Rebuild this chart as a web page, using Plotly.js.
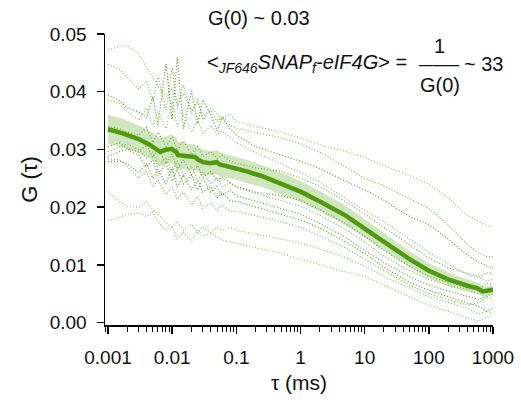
<!DOCTYPE html>
<html>
<head>
<meta charset="utf-8">
<script src="https://cdn.plot.ly/plotly-3.0.1.min.js"></script>
<style>html,body{margin:0;padding:0;background:#fff;}#chart{width:521px;height:400px;}</style>
</head>
<body>
<div id="chart"></div>
<script>
// lag times (ms) for the individual curves
const tau = [0.001,0.0015,0.002,0.003,0.004,0.005,0.006,0.008,0.01,0.012,0.015,0.02,0.025,0.03,0.04,0.05,0.06,0.08,0.1,0.2,0.5,1,2,5,10,20,50,100,200,400,600,800,1000];

// individual autocorrelation curves G(tau)
const curveA = [.0473,.0478,.0480,.0466,.0441,.0425,.0410,.0392,.0405,.0378,.0396,.0368,.0382,.0357,.0372,.0362,.0352,.0361,.0348,.0340,.0330,.0320,.0308,.0297,.0286,.0272,.0255,.0240,.0216,.0186,.0175,.0168,.0166];
const curveB = [.0447,.0440,.0425,.0405,.0418,.0382,.0428,.0368,.0442,.0372,.0412,.0362,.0388,.0352,.0368,.0348,.0358,.0342,.0337,.0330,.0320,.0310,.0295,.0270,.0250,.0237,.0215,.0198,.0170,.0135,.0120,.0115,.0114];
const curveC = [.0395,.0385,.0372,.0365,.0355,.0392,.0342,.0448,.0352,.0460,.0336,.0402,.0345,.0386,.0360,.0332,.0355,.0336,.0325,.0305,.0290,.0280,.0267,.0245,.0230,.0212,.0184,.0170,.0145,.0117,.0105,.0098,.0095];
const curveD = [.0386,.0380,.0366,.0350,.0372,.0340,.0366,.0336,.0382,.0340,.0362,.0330,.0352,.0326,.0342,.0325,.0332,.0320,.0312,.0295,.0275,.0260,.0243,.0215,.0195,.0175,.0145,.0122,.0102,.0083,.0078,.0072,.0075];
const curveK = [.0340,.0336,.0330,.0325,.0338,.0312,.0330,.0305,.0322,.0298,.0315,.0292,.0305,.0288,.0296,.0284,.0290,.0280,.0276,.0268,.0262,.0250,.0236,.0210,.0188,.0165,.0135,.0112,.0095,.0085,.0080,.0086,.0085];
const curveL = [.0305,.0312,.0302,.0296,.0308,.0286,.0302,.0276,.0292,.0266,.0282,.0256,.0272,.0252,.0262,.0246,.0252,.0242,.0236,.0226,.0220,.0212,.0196,.0172,.0150,.0125,.0098,.0080,.0070,.0062,.0058,.0068,.0066];
const curveE = [.0296,.0305,.0310,.0300,.0285,.0296,.0270,.0286,.0260,.0280,.0255,.0272,.0246,.0262,.0240,.0252,.0236,.0242,.0234,.0224,.0212,.0202,.0186,.0162,.0140,.0115,.0090,.0075,.0065,.0058,.0050,.0055,.0060];
const curveF = [.0288,.0296,.0300,.0290,.0270,.0282,.0255,.0276,.0245,.0266,.0240,.0256,.0230,.0250,.0226,.0236,.0220,.0230,.0220,.0210,.0198,.0188,.0172,.0148,.0125,.0104,.0080,.0065,.0055,.0045,.0040,.0046,.0050];
const curveG = [.0279,.0280,.0275,.0260,.0276,.0250,.0266,.0240,.0270,.0235,.0256,.0230,.0246,.0226,.0236,.0216,.0226,.0211,.0210,.0200,.0188,.0178,.0164,.0140,.0120,.0096,.0070,.0056,.0045,.0035,.0028,.0020,.0025];
const curveJ = [.0284,.0282,.0270,.0250,.0262,.0235,.0248,.0222,.0236,.0214,.0226,.0204,.0218,.0198,.0208,.0194,.0204,.0193,.0193,.0185,.0175,.0165,.0150,.0130,.0110,.0090,.0065,.0050,.0040,.0030,.0035,.0045,.0040];
const curveH = [.0227,.0210,.0202,.0200,.0210,.0195,.0190,.0173,.0166,.0175,.0160,.0170,.0155,.0166,.0156,.0165,.0160,.0165,.0160,.0153,.0145,.0138,.0128,.0113,.0098,.0080,.0060,.0045,.0035,.0025,.0015,.0020,.0015];
const curveI = [.0176,.0182,.0188,.0190,.0184,.0192,.0175,.0160,.0166,.0146,.0156,.0142,.0160,.0150,.0155,.0148,.0143,.0140,.0138,.0130,.0120,.0110,.0100,.0088,.0080,.0065,.0045,.0030,.0020,.0008,.0003,.0010,.0012];

const curves = [curveA,curveB,curveC,curveD,curveK,curveL,curveE,curveF,curveG,curveJ,curveH,curveI];
const curveColors = ['#8cbf66','#7db552','#4f9a1a','#8cbf66','#6aaa3a','#4f9a1a','#7db552','#5fa22c','#4f9a1a','#7db552','#8cbf66','#8cbf66'];

// average curve and its standard error
const meanTau = [0.001,0.0017,0.003,0.0045,0.0065,0.0077,0.0098,0.0117,0.0124,0.015,0.019,0.0227,0.0255,0.0304,0.0387,0.0495,0.0556,0.08,0.145,0.265,0.48,1,2,5,10,20,50,100,200,400,560,700,850,1000];
const meanG = [.0335,.0328,.0318,.0308,.0296,.0299,.0301,.0295,.0290,.0289,.0286,.0287,.0282,.0278,.0276,.0278,.0274,.0270,.0262,.0253,.0242,.0227,.0210,.0186,.0163,.0140,.0110,.0090,.0075,.0064,.0060,.0054,.0055,.0057];
const semG = [.0025,.0025,.0024,.0024,.0024,.0024,.0025,.0025,.0024,.0023,.0023,.0022,.0022,.0022,.0021,.0021,.0021,.0020,.0020,.0019,.0019,.0018,.0018,.0017,.0016,.0015,.0014,.0013,.0012,.0011,.0010,.0009,.0008,.0008];

const xTickVals = [0.001,0.01,0.1,1,10,100,1000];
const xTickText = ['0.001','0.01','0.1','1','10','100','1000'];
const yTickVals = [0,0.01,0.02,0.03,0.04,0.05];
const yTickText = ['0.00','0.01','0.02','0.03','0.04','0.05'];

const traces = [];
curves.forEach((c,i)=>{
  traces.push({x:tau,y:c,mode:'lines',type:'scatter',line:{color:curveColors[i],width:1.2,dash:'1px,2px'},hoverinfo:'skip',showlegend:false});
});
const upper = meanG.map((v,i)=>v+semG[i]);
const lower = meanG.map((v,i)=>v-semG[i]);
traces.push({x:meanTau,y:upper,mode:'lines',line:{width:0,color:'rgba(0,0,0,0)'},showlegend:false,hoverinfo:'skip'});
traces.push({x:meanTau,y:lower,mode:'lines',line:{width:0,color:'rgba(0,0,0,0)'},fill:'tonexty',fillcolor:'rgba(140,195,100,0.42)',showlegend:false,hoverinfo:'skip'});
traces.push({x:meanTau,y:meanG,mode:'lines',line:{color:'#4f9a0e',width:4.5},showlegend:false});

const F = 'Liberation Sans, Arial, Helvetica, sans-serif';
const layout = {
  width:521,height:400,
  margin:{l:105,r:28,t:34,b:75},
  paper_bgcolor:'#fff',plot_bgcolor:'#fff',
  font:{family:F,size:19,color:'#111'},
  showlegend:false,
  xaxis:{type:'log',range:[-3.047,3],tickvals:xTickVals,ticktext:xTickText,
    showline:true,linecolor:'#000',linewidth:1.5,ticks:'outside',ticklen:7,tickwidth:1.5,tickcolor:'#000',
    showgrid:false,zeroline:false,ticklabelstandoff:8,
    minor:{ticks:'outside',ticklen:5,tickwidth:1,tickcolor:'#000',dtick:'D1',showgrid:false},
    title:{text:'τ (ms)',font:{size:21,family:F},standoff:8}},
  yaxis:{range:[-0.0004,0.05],tickvals:yTickVals,ticktext:yTickText,
    showline:true,linecolor:'#000',linewidth:1.5,ticks:'outside',ticklen:7,tickwidth:1.5,tickcolor:'#000',
    showgrid:false,zeroline:false,ticklabelstandoff:6,
    title:{text:'G (τ)',font:{size:22,family:F},standoff:6}},
  annotations:[
    {xref:'paper',yref:'paper',x:0.397,y:1.055,text:'G(0) ~ 0.03',showarrow:false,xanchor:'center',yanchor:'middle',font:{size:20}},
    {xref:'paper',yref:'paper',x:0.258,y:0.900,text:'&lt;<i><sub>JF646</sub>SNAP<sub>f</sub>-eIF4G</i>&gt; =',showarrow:false,xanchor:'left',yanchor:'middle',font:{size:20}},
    {xref:'paper',yref:'paper',x:0.863,y:0.960,text:'1',showarrow:false,xanchor:'center',yanchor:'middle',font:{size:20}},
    {xref:'paper',yref:'paper',x:0.863,y:0.8235,text:'G(0)',showarrow:false,xanchor:'center',yanchor:'middle',font:{size:20}},
    {xref:'paper',yref:'paper',x:0.921,y:0.897,text:'~ 33',showarrow:false,xanchor:'left',yanchor:'middle',font:{size:20}},
    {xref:'paper',yref:'paper',x:0.862,y:0.8935,text:'<b>———</b>',showarrow:false,xanchor:'center',yanchor:'middle',font:{size:13.4,color:'#111'}}
  ]
};
Plotly.newPlot('chart',traces,layout,{displayModeBar:false,staticPlot:true});
</script>
</body>
</html>
